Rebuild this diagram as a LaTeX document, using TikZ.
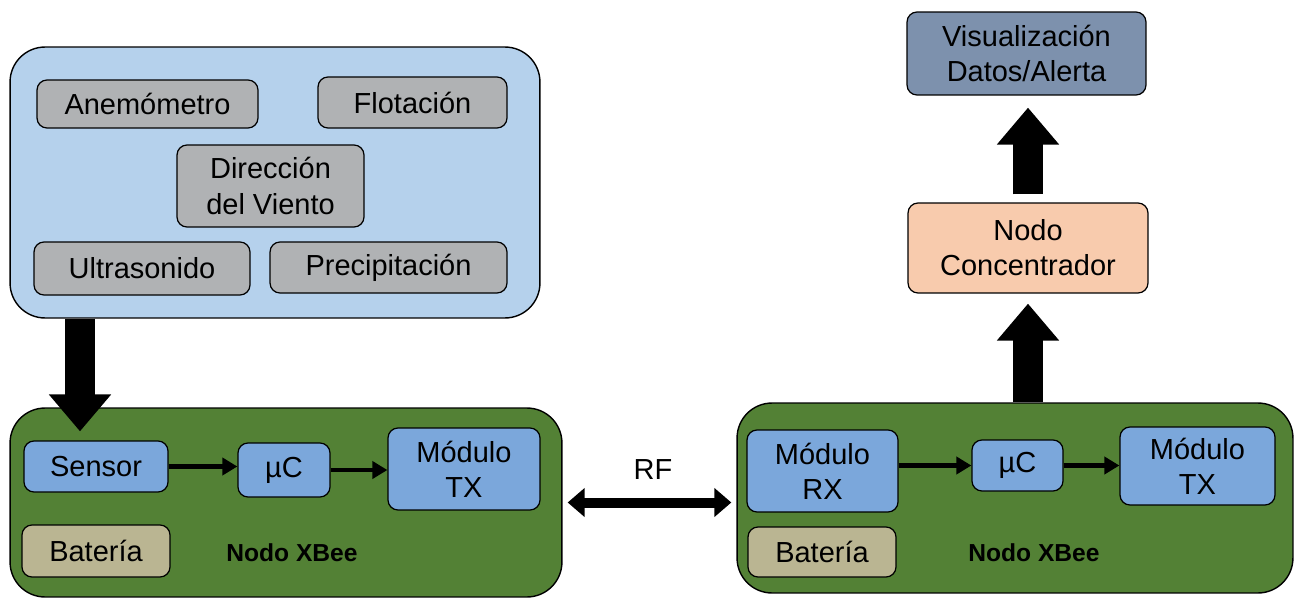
\documentclass[tikz,border=0pt]{standalone}
\usepackage{fontspec}
\setmainfont{Liberation Sans}
\usetikzlibrary{arrows.meta}
\definecolor{Cloud}{HTML}{B5D1EC}
\definecolor{Probe}{HTML}{B0B2B4}
\definecolor{Leaf}{HTML}{538135}
\definecolor{Chip}{HTML}{7BA7DB}
\definecolor{Sand}{HTML}{BAB592}
\definecolor{Peach}{HTML}{F8CBAD}
\definecolor{Slate}{HTML}{7D91AD}

\begin{document}
\begin{tikzpicture}[x=0.02cm,y=-0.02cm,>=Latex]
        \tikzset{
          unit/.style={
            draw,
            line width=0.7pt,
            rounded corners=0.2cm,
            inner sep=0pt,
            align=center,
            font=\fontsize{16.5}{20}\selectfont
          },
          probebox/.style={unit,fill=Probe},
          chipbox/.style={unit,fill=Chip},
          cellbox/.style={unit,fill=Sand},
          groupbox/.style={draw,line width=0.8pt,rounded corners=0.7cm},
          thinflow/.style={line width=2.6pt,-{Triangle[width=0.34cm,length=0.3cm]}},
          bigflow/.style={line width=0.6cm,-{Triangle[width=1.2cm,length=0.74cm]}},
          radio/.style={line width=0.2cm,{Triangle[width=0.56cm,length=0.34cm]}-{Triangle[width=0.56cm,length=0.34cm]}}
        }
        \useasboundingbox (0,0) rectangle (1296,599);
        % sensores
        \node[groupbox,fill=Cloud,minimum width=10.6cm,minimum height=5.42cm] (sensors) at (275,182.5) {};
        \node[probebox,minimum width=4.42cm,minimum height=0.96cm] (anem) at (147.5,104) {Anemómetro};
        \node[probebox,minimum width=3.78cm,minimum height=1.02cm] (flot) at (412.5,102.5) {Flotación};
        \node[probebox,minimum width=3.74cm,minimum height=1.64cm] (dir) at (270.5,186) {Dirección\\del Viento};
        \node[probebox,minimum width=4.32cm,minimum height=1.06cm] (ultra) at (142,268.5) {Ultrasonido};
        \node[probebox,minimum width=4.74cm,minimum height=1.02cm] (prec) at (388.5,267.5) {Precipitación};
        % nodo emisor
        \node[groupbox,fill=Leaf,minimum width=11.04cm,minimum height=3.78cm] (nodea) at (286,502.5) {};
        \node[chipbox,minimum width=2.88cm,minimum height=1.02cm] (sens) at (96,466.5) {Sensor};
        \node[chipbox,minimum width=1.84cm,minimum height=1.08cm] (mcua) at (284,470) {µC};
        \node[chipbox,minimum width=3.04cm,minimum height=1.64cm] (txa) at (464,469) {Módulo\\TX};
        \node[cellbox,minimum width=2.96cm,minimum height=1.04cm] (bata) at (96,551) {Batería};
        \node[font=\fontsize{14}{16}\bfseries] (laba) at (292,553) {Nodo XBee};
        % nodo receptor
        \node[groupbox,fill=Leaf,minimum width=11.12cm,minimum height=3.8cm] (nodeb) at (1015,498) {};
        \node[chipbox,minimum width=3.02cm,minimum height=1.64cm] (rxb) at (822.5,471) {Módulo\\RX};
        \node[chipbox,minimum width=1.82cm,minimum height=1.02cm] (mcub) at (1017.5,465.5) {µC};
        \node[chipbox,minimum width=3.1cm,minimum height=1.56cm] (txb) at (1197.5,466) {Módulo\\TX};
        \node[cellbox,minimum width=2.96cm,minimum height=1cm] (batb) at (822,552) {Batería};
        \node[font=\fontsize{14}{16}\bfseries] (labb) at (1034,553) {Nodo XBee};
        % concentrador
        \node[unit,fill=Peach,minimum width=4.8cm,minimum height=1.8cm] (conc) at (1028,248) {Nodo\\Concentrador};
        \node[unit,fill=Slate,minimum width=4.78cm,minimum height=1.66cm] (vis) at (1026.5,53.5) {Visualización\\Datos/Alerta};
        \node[font=\fontsize{16.5}{20}\selectfont] (rf) at (653,470) {RF};
        \coordinate (drop) at (80,0);
        \coordinate (lift) at (1028,0);
        % flechas
        \draw[bigflow] (sensors.south -| drop) -- ([yshift=0.18cm]sens.north -| drop);
        \draw[thinflow] (sens.east) -- (sens.east -| mcua.west);
        \draw[thinflow] (mcua.east) -- (mcua.east -| txa.west);
        \draw[thinflow] (rxb.east |- mcub.west) -- (mcub.west);
        \draw[thinflow] (mcub.east) -- (mcub.east -| txb.west);
        \draw[radio] ([xshift=0.1cm]nodea.east) -- ([xshift=-0.1cm]nodea.east -| nodeb.west);
        \draw[bigflow] (nodeb.north -| lift) -- ([yshift=-0.2cm]conc.south -| lift);
        \draw[bigflow] ([yshift=0.16cm]conc.north -| lift) -- ([yshift=-0.24cm]vis.south -| lift);
      \end{tikzpicture}
\end{document}
